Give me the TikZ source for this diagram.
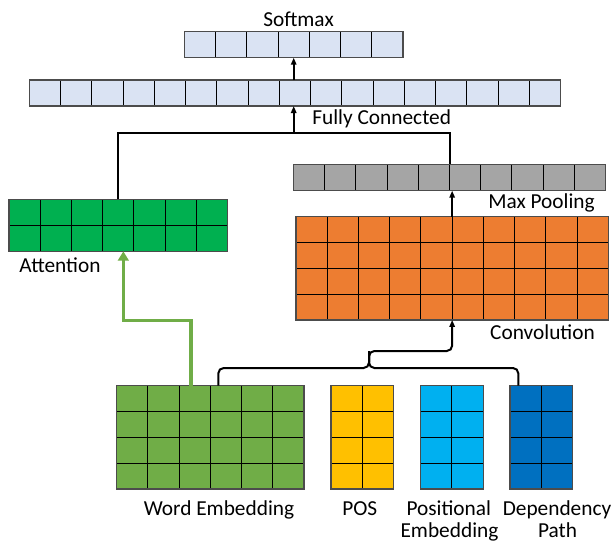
\documentclass[tikz,border=0pt]{standalone}
\usepackage{fontspec}
\setmainfont{Carlito}
\usetikzlibrary{calc,arrows.meta}

\definecolor{fcblue}{HTML}{DAE3F3}
\definecolor{poolgray}{HTML}{A5A5A5}
\definecolor{convorange}{HTML}{ED7D31}
\definecolor{attgreen}{HTML}{00B050}
\definecolor{wordgreen}{HTML}{70AD47}
\definecolor{posyellow}{HTML}{FFC000}
\definecolor{poscyan}{HTML}{00B0F0}
\definecolor{depblue}{HTML}{0070C0}

\tikzset{
  gridbox/.style={draw=black!70, line width=1.1pt, inner sep=0pt, outer sep=0pt, anchor=north west},
  gridline/.style={draw=black, line width=0.75pt},
  lbl/.style={font=\fontsize{16}{20}\selectfont, inner sep=0pt, anchor=base},
  conn/.style={draw=black, line width=1.5pt},
  arr/.style={conn, -{Triangle[length=5.25pt,width=4pt]}},
  garr/.style={draw=wordgreen, line width=2.5pt, -{Triangle[length=7pt,width=8pt]}},
}

% name, left, top, columns, rows, cell width, cell height, fill
\newcommand\cellgrid[8]{%
  \node[gridbox, fill=#8, minimum width={#4*#6*0.75pt}, minimum height={#5*#7*0.75pt}] (#1) at (#2,#3) {};
  \foreach \i in {2,...,#4} {
    \draw[gridline] ($(#1.north west)+({(\i-1)*#6},0)$) -- ($(#1.south west)+({(\i-1)*#6},0)$);
  }
  \ifnum#5>1
    \foreach \j in {2,...,#5} {
      \draw[gridline] ($(#1.north west)+(0,{(\j-1)*#7})$) -- ($(#1.north east)+(0,{(\j-1)*#7})$);
    }
  \fi
  \draw[draw=black!70, line width=1.1pt] (#1.north west) rectangle (#1.south east);
}

\begin{document}
\begin{tikzpicture}[x=0.75pt,y=-0.75pt]
  \useasboundingbox (0,0) rectangle (613,543);

  % layers
  \cellgrid{sm}{184.5}{31.7}{7}{1}{31.2}{26}{fcblue}
  \cellgrid{fc}{29.3}{80}{17}{1}{31.26}{26}{fcblue}
  \cellgrid{mp}{293.3}{164.3}{10}{1}{31.24}{26.4}{poolgray}
  \cellgrid{att}{9}{199.3}{7}{2}{31.24}{26}{attgreen}
  \cellgrid{conv}{296}{216.7}{10}{4}{31.23}{25.8}{convorange}
  \cellgrid{we}{116.7}{385.7}{6}{4}{31.22}{25.85}{wordgreen}
  \cellgrid{pos}{331}{385.7}{2}{4}{31.2}{25.85}{posyellow}
  \cellgrid{pe}{420.3}{385.7}{2}{4}{31.5}{25.85}{poscyan}
  \cellgrid{dep}{510}{385.7}{2}{4}{31.35}{25.85}{depblue}

  % labels
  \node[lbl] (lsm) at (298.5,26.7) {Softmax};
  \node[lbl] (lfc) at (381.7,124) {Fully Connected};
  \node[lbl] (lmp) at (541.5,208.3) {Max Pooling};
  \node[lbl] (latt) at (60,272.7) {Attention};
  \node[lbl] (lconv) at (542.5,339.3) {Convolution};
  \node[lbl] (lwe) at (219,515) {Word Embedding};
  \node[lbl] (lpos) at (359.8,515) {POS};
  \node[lbl] (lpe1) at (448.8,515) {Positional};
  \node[lbl] (lpe2) at (449.5,537) {Embedding};
  \node[lbl] (ldep1) at (557,515) {Dependency};
  \node[lbl] (ldep2) at (557.5,537) {Path};

  % fully connected -> softmax
  \draw[arr] (sm.south |- fc.north) -- (sm.south);

  % attention and max pooling merge into the fully connected layer
  \coordinate (j1) at ($(sm.south |- fc.south)+(0,27)$);
  \draw[conn] (att.north) -- (att.north |- j1) -- (mp.north |- j1) -- (mp.north);
  \draw[arr] (j1) -- (j1 |- fc.south);

  % convolution -> max pooling
  \draw[arr] (conv.north) -- (conv.north |- mp.south);

  % brace gathering the embeddings into the convolution
  \coordinate (bl) at ($(we.north west)+(101.6,0)$);
  \coordinate (br) at ($(dep.north west)+(8.3,0)$);
  \coordinate (bm) at (369,368);
  \coordinate (tip) at (369,351);
  \draw[conn, rounded corners=4pt] (bl) |- (bm) -- (tip);
  \draw[conn, rounded corners=4pt] (br) |- (bm) -- (tip);
  \draw[arr, rounded corners=4pt] ($(bm)+(0,-6)$) -- (tip) -| (conv.south);

  % word embedding -> attention
  \coordinate (gs) at ($(we.north west)+(74.3,0)$);
  \coordinate (gt) at ($(att.south)+(5,0)$);
  \draw[garr] (gs) |- ($(gt)+(0,69.4)$) -- (gt);
\end{tikzpicture}
\end{document}
